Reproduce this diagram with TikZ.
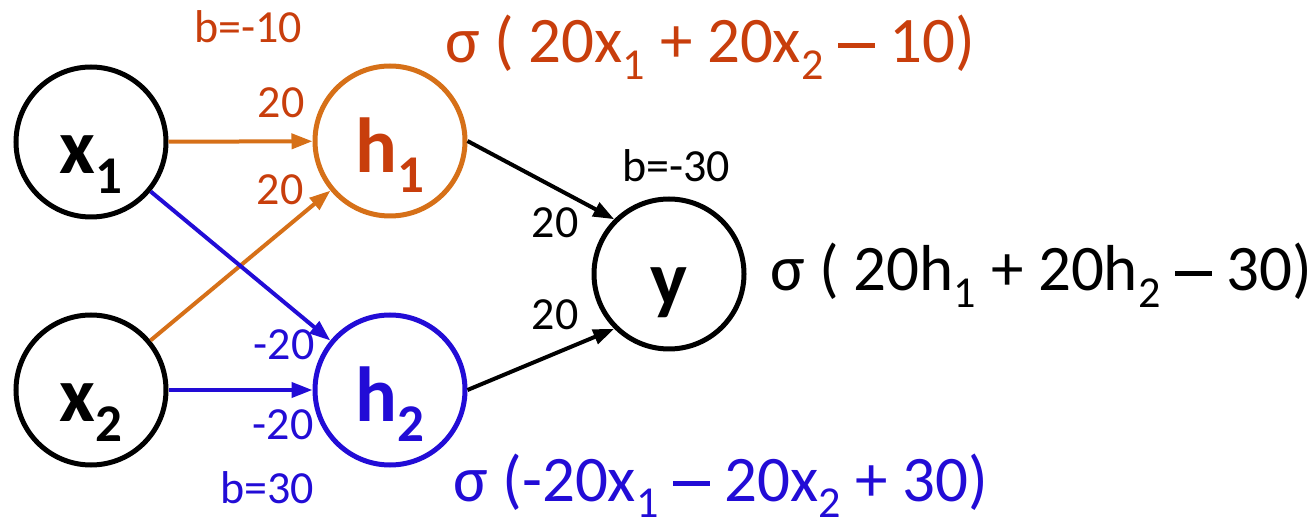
\documentclass[tikz,border=0pt]{standalone}
\usepackage{fontspec}
\setmainfont{Carlito}
\usetikzlibrary{arrows.meta}
\definecolor{orl}{RGB}{214,112,24}
\definecolor{ort}{RGB}{200,62,12}
\definecolor{blu}{RGB}{34,12,214}
\newcommand{\subx}[1]{\raisebox{-0.25em}{\scalebox{0.68}{#1}}}
\newcommand{\mn}{\raisebox{0.23em}{\rule{0.56em}{0.075em}}}
\tikzset{
  neuron/.style={circle, draw, line width=5pt, minimum size=150pt, inner sep=0pt,
    text height=64pt, text depth=0pt,
    font=\fontsize{78}{84}\selectfont\bfseries},
  conn/.style={line width=4pt, -{Triangle[length=21pt,width=15pt]}},
  wlabel/.style={anchor=base, font=\fontsize{46}{50}\selectfont, inner sep=0pt},
  formula/.style={anchor=base west, font=\fontsize{65}{70}\selectfont, inner sep=0pt}
}
\begin{document}
\begin{tikzpicture}[x=1pt,y=-1pt]
\useasboundingbox (0,0) rectangle (1315,526);
\node[neuron] (x1) at (91,142) {x\subx{1}};
\node[neuron] (x2) at (91,390) {x\subx{2}};
\node[neuron, draw=orl, text=ort] (h1) at (390,141) {h\subx{1}};
\node[neuron, draw=blu, text=blu] (h2) at (390,390) {h\subx{2}};
\node[neuron] (y) at (669,274) {y};

\draw[conn, orl] (x1) -- (h1);
\draw[conn, orl] (x2) -- (h1);
\draw[conn, blu] (x1) -- (h2);
\draw[conn, blu] (x2) -- (h2);
\draw[conn] (h1.east) -- (y.north west);
\draw[conn] (h2.east) -- (y.south west);

\node[wlabel, text=ort] (bh1) at (248,43) {b=-10};
\node[wlabel, text=ort] (w11) at (281,118) {20};
\node[wlabel, text=ort] (w21) at (280,205) {20};
\node[wlabel, text=blu] (w12) at (284,360) {-20};
\node[wlabel, text=blu] (w22) at (283,440) {-20};
\node[wlabel, text=blu] (bh2) at (267,503) {b=30};
\node[wlabel] (by) at (676,182) {b=-30};
\node[wlabel] (wy1) at (555,238) {20};
\node[wlabel] (wy2) at (555,330) {20};

\node[formula, text=ort] (f1) at (445,63) {σ ( 20x\subx{1} + 20x\subx{2} \mn{} 10)};
\node[formula] (fy) at (770,291) {σ ( 20h\subx{1} + 20h\subx{2} \mn{} 30)};
\node[formula, text=blu] (f2) at (453,501) {σ (-20x\subx{1} \mn{} 20x\subx{2} + 30)};
\end{tikzpicture}
\end{document}
